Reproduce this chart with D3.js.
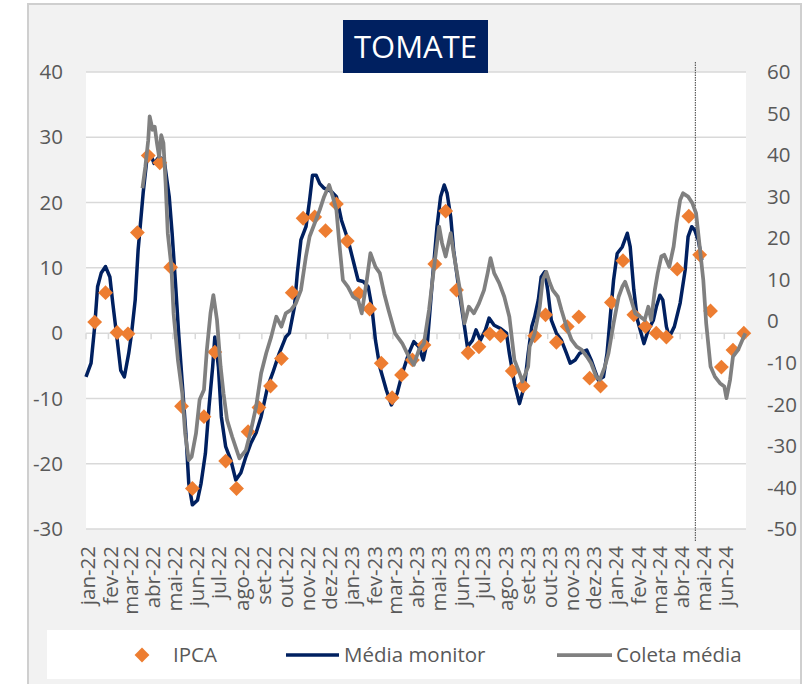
<!DOCTYPE html>
<html>
<head>
<meta charset="utf-8">
<script src="https://cdn.jsdelivr.net/npm/d3@7"></script>
<style>
  body { margin: 0; background: #fff; }
  text { font-family: "Open Sans", sans-serif; fill: #595959; }
</style>
</head>
<body>
<div class="container"></div>
<script>
const w = 803;
const h = 684;
const plot = { left: 86, right: 746, top: 72, bottom: 529 };

const monthLabels = ['jan-22','fev-22','mar-22','abr-22','mai-22','jun-22','jul-22','ago-22','set-22','out-22','nov-22','dez-22',
  'jan-23','fev-23','mar-23','abr-23','mai-23','jun-23','jul-23','ago-23','set-23','out-23','nov-23','dez-23',
  'jan-24','fev-24','mar-24','abr-24','mai-24','jun-24'];
const leftTicks = [-30, -20, -10, 0, 10, 20, 30, 40];
const rightTicks = [-50, -40, -30, -20, -10, 0, 10, 20, 30, 40, 50, 60];
const markerDate = '2024-04-22';

// IPCA (quinzenal), eixo esquerdo
const ipca = [
  ['2022-01-13',1.7],['2022-01-28',6.2],['2022-02-13',0.1],['2022-02-28',-0.1],['2022-03-13',15.4],['2022-03-28',27.2],
  ['2022-04-13',26.1],['2022-04-28',10.1],['2022-05-13',-11.2],['2022-05-28',-23.8],['2022-06-13',-12.8],['2022-06-28',-2.9],
  ['2022-07-13',-19.6],['2022-07-28',-23.8],['2022-08-13',-15.1],['2022-08-28',-11.4],['2022-09-13',-8.1],['2022-09-28',-3.9],
  ['2022-10-13',6.2],['2022-10-28',17.6],['2022-11-13',17.8],['2022-11-28',15.7],['2022-12-13',19.8],['2022-12-28',14.1],
  ['2023-01-13',6.1],['2023-01-28',3.7],['2023-02-13',-4.6],['2023-02-28',-9.9],['2023-03-13',-6.4],['2023-03-28',-4.1],
  ['2023-04-13',-1.8],['2023-04-28',10.6],['2023-05-13',18.7],['2023-05-28',6.6],['2023-06-13',-3.0],['2023-06-28',-2.1],
  ['2023-07-13',-0.1],['2023-07-28',-0.4],['2023-08-13',-5.8],['2023-08-28',-8.1],['2023-09-13',-0.4],['2023-09-28',2.8],
  ['2023-10-13',-1.4],['2023-10-28',1.0],['2023-11-13',2.5],['2023-11-28',-6.9],['2023-12-13',-8.1],['2023-12-28',4.7],
  ['2024-01-13',11.1],['2024-01-28',2.8],['2024-02-13',1.0],['2024-02-28',0.0],['2024-03-13',-0.6],['2024-03-28',9.8],
  ['2024-04-13',17.9],['2024-04-28',12.0],['2024-05-13',3.4],['2024-05-28',-5.2],['2024-06-13',-2.6],['2024-06-28',0.0]
];

// Média monitor, eixo esquerdo
const mediaMonitor = [
  ['2022-01-01',-6.7],['2022-01-08',-4.6],['2022-01-13',1.0],['2022-01-17',7.1],['2022-01-22',9.2],['2022-01-28',10.2],
  ['2022-02-03',8.6],['2022-02-07',4.6],['2022-02-12',0.0],['2022-02-18',-5.7],['2022-02-23',-6.7],['2022-03-01',-3.1],
  ['2022-03-05',0.0],['2022-03-10',5.1],['2022-03-14',12.7],['2022-03-21',21.5],['2022-03-26',26.5],['2022-03-31',27.5],
  ['2022-04-05',26.0],['2022-04-12',27.0],['2022-04-19',26.5],['2022-04-26',20.9],['2022-04-30',15.3],['2022-05-05',7.1],
  ['2022-05-09',0.0],['2022-05-14',-7.6],['2022-05-19',-15.3],['2022-05-23',-23.0],['2022-05-28',-26.3],['2022-06-04',-25.6],
  ['2022-06-09',-23.0],['2022-06-15',-18.4],['2022-06-20',-11.3],['2022-06-25',-5.2],['2022-06-28',-0.6],['2022-07-03',-5.2],
  ['2022-07-07',-12.8],['2022-07-13',-17.4],['2022-07-20',-19.4],['2022-07-27',-22.5],['2022-08-03',-21.4],['2022-08-10',-18.9],
  ['2022-08-17',-16.8],['2022-08-24',-15.3],['2022-08-31',-12.8],['2022-09-09',-8.2],['2022-09-16',-6.1],['2022-09-25',-3.1],
  ['2022-10-04',-0.6],['2022-10-09',0.0],['2022-10-16',4.0],['2022-10-20',9.2],['2022-10-25',14.3],['2022-11-01',16.3],
  ['2022-11-06',20.4],['2022-11-10',24.2],['2022-11-15',24.2],['2022-11-20',22.9],['2022-11-26',22.2],['2022-12-06',21.7],
  ['2022-12-13',20.9],['2022-12-20',17.3],['2022-12-29',14.3],['2023-01-05',11.2],['2023-01-12',8.1],['2023-01-19',7.9],
  ['2023-01-26',7.1],['2023-01-31',4.0],['2023-02-05',-1.1],['2023-02-11',-5.2],['2023-02-20',-8.7],['2023-02-27',-11.0],
  ['2023-03-07',-9.2],['2023-03-14',-6.2],['2023-03-23',-3.1],['2023-03-30',-1.3],['2023-04-06',-2.1],['2023-04-12',-4.1],
  ['2023-04-18',-1.1],['2023-04-25',8.6],['2023-05-01',16.3],['2023-05-06',20.9],['2023-05-11',22.7],['2023-05-15',21.4],
  ['2023-05-20',17.8],['2023-05-24',12.7],['2023-06-01',6.1],['2023-06-08',1.0],['2023-06-12',-2.1],['2023-06-19',-1.1],
  ['2023-06-24',0.5],['2023-06-30',-1.1],['2023-07-07',0.5],['2023-07-12',2.3],['2023-07-19',1.2],['2023-07-28',0.7],
  ['2023-08-05',0.0],['2023-08-09',-3.1],['2023-08-16',-7.7],['2023-08-23',-10.8],['2023-08-30',-8.0],['2023-09-04',-3.1],
  ['2023-09-09',1.0],['2023-09-13',2.5],['2023-09-18',5.1],['2023-09-22',8.6],['2023-09-27',9.4],['2023-10-01',6.6],
  ['2023-10-06',2.0],['2023-10-13',0.0],['2023-10-20',-1.1],['2023-10-27',-3.1],['2023-11-01',-4.6],['2023-11-08',-4.1],
  ['2023-11-14',-3.1],['2023-11-24',-2.6],['2023-11-30',-4.1],['2023-12-05',-5.7],['2023-12-10',-7.2],['2023-12-17',-6.7],
  ['2023-12-22',-3.1],['2023-12-26',2.0],['2023-12-31',8.1],['2024-01-05',12.2],['2024-01-12',13.2],['2024-01-19',15.3],
  ['2024-01-23',13.2],['2024-01-28',6.6],['2024-02-02',2.0],['2024-02-07',0.0],['2024-02-11',-1.6],['2024-02-17',0.5],
  ['2024-02-24',2.0],['2024-02-28',4.0],['2024-03-04',5.8],['2024-03-08',5.1],['2024-03-13',1.0],['2024-03-17',-0.6],
  ['2024-03-24',1.0],['2024-04-01',4.6],['2024-04-08',9.7],['2024-04-12',14.8],['2024-04-17',16.3],['2024-04-21',15.8],
  ['2024-04-26',14.3],['2024-05-01',11.2]
];

// Coleta média, eixo direito
const coletaMedia = [
  ['2022-03-20',32.0],['2022-03-24',37.2],['2022-03-28',43.6],['2022-03-30',49.3],['2022-04-03',46.1],['2022-04-06',46.8],
  ['2022-04-09',42.9],['2022-04-12',39.6],['2022-04-15',44.8],['2022-04-18',42.9],['2022-04-21',33.2],['2022-04-24',21.2],
  ['2022-04-29',13.1],['2022-05-02',1.9],['2022-05-08',-9.3],['2022-05-14',-17.3],['2022-05-18',-27.0],['2022-05-23',-33.4],
  ['2022-05-27',-32.6],['2022-06-02',-27.0],['2022-06-07',-18.9],['2022-06-13',-16.5],['2022-06-17',-6.9],['2022-06-22',1.9],
  ['2022-06-26',6.3],['2022-07-01',0.3],['2022-07-06',-10.9],['2022-07-10',-17.3],['2022-07-15',-23.8],['2022-07-22',-27.8],
  ['2022-08-01',-33.0],['2022-08-10',-31.0],['2022-08-17',-26.2],['2022-08-24',-20.6],['2022-08-31',-12.5],['2022-09-07',-7.7],
  ['2022-09-14',-3.7],['2022-09-21',1.1],['2022-09-28',-1.3],['2022-10-04',1.9],['2022-10-11',2.7],['2022-10-18',4.3],
  ['2022-10-25',7.5],['2022-11-01',15.7],['2022-11-06',20.4],['2022-11-13',23.6],['2022-11-20',26.8],['2022-11-26',30.0],
  ['2022-12-03',32.8],['2022-12-08',30.0],['2022-12-13',26.8],['2022-12-17',18.8],['2022-12-22',9.9],['2022-12-29',8.3],
  ['2023-01-05',5.9],['2023-01-12',5.1],['2023-01-17',1.9],['2023-01-24',9.9],['2023-01-29',16.4],['2023-02-05',13.1],
  ['2023-02-11',11.6],['2023-02-17',6.7],['2023-02-23',2.7],['2023-03-04',-2.9],['2023-03-14',-5.3],['2023-03-23',-8.5],
  ['2023-03-30',-10.5],['2023-04-06',-6.9],['2023-04-13',-5.3],['2023-04-20',2.7],['2023-04-27',13.1],['2023-05-04',22.8],
  ['2023-05-08',18.8],['2023-05-13',15.6],['2023-05-20',21.2],['2023-05-24',16.4],['2023-06-01',8.3],['2023-06-08',-0.5],
  ['2023-06-14',3.5],['2023-06-21',1.9],['2023-06-28',4.3],['2023-07-05',7.5],['2023-07-10',11.6],['2023-07-14',15.2],
  ['2023-07-19',11.6],['2023-07-26',9.2],['2023-08-02',5.9],['2023-08-09',1.1],['2023-08-16',-9.3],['2023-08-23',-12.5],
  ['2023-08-27',-14.5],['2023-09-04',-10.9],['2023-09-06',-6.1],['2023-09-13',-2.9],['2023-09-20',3.5],['2023-09-24',9.9],
  ['2023-09-29',11.9],['2023-10-04',9.2],['2023-10-08',7.5],['2023-10-15',5.9],['2023-10-20',2.7],['2023-10-27',-1.3],
  ['2023-11-03',-4.5],['2023-11-10',-6.1],['2023-11-17',-6.9],['2023-11-24',-8.5],['2023-11-30',-10.1],['2023-12-07',-13.3],
  ['2023-12-12',-14.1],['2023-12-19',-10.9],['2023-12-24',-7.7],['2023-12-31',-0.5],['2024-01-07',5.9],['2024-01-12',8.3],
  ['2024-01-16',9.5],['2024-01-23',5.9],['2024-01-30',1.9],['2024-02-06',1.1],['2024-02-12',0.3],['2024-02-17',3.5],
  ['2024-02-21',0.3],['2024-02-26',7.5],['2024-03-01',11.6],['2024-03-06',15.6],['2024-03-10',16.0],['2024-03-17',13.1],
  ['2024-03-23',18.0],['2024-03-27',23.6],['2024-04-01',29.2],['2024-04-05',30.8],['2024-04-12',30.0],['2024-04-18',28.4],
  ['2024-04-23',26.0],['2024-04-28',18.0],['2024-05-03',9.9],['2024-05-07',-0.5],['2024-05-13',-10.9],['2024-05-19',-13.3],
  ['2024-05-26',-14.9],['2024-06-01',-15.7],['2024-06-04',-18.5],['2024-06-09',-14.1],['2024-06-13',-8.5],['2024-06-20',-6.9],
  ['2024-06-26',-4.5],['2024-06-30',-2.9]
];

const parse = d3.timeParse('%Y-%m-%d');

const x = d3.scaleTime()
    .domain([parse('2022-01-01'), parse('2024-07-01')])
    .range([plot.left, plot.right]);

const yLeft = d3.scaleLinear()
    .domain([-30, 40])
    .range([plot.bottom, plot.top]);

const yRight = d3.scaleLinear()
    .domain([-50, 60])
    .range([plot.bottom, plot.top]);

const svg = d3.select('.container').append('svg')
    .attr('width', w)
    .attr('height', h);

// moldura
svg.append('rect')
    .attr('x', 28).attr('y', 4)
    .attr('width', 773).attr('height', 700)
    .attr('fill', '#f2f2f2')
    .attr('stroke', '#cfcfcf')
    .attr('stroke-width', 2);

svg.append('rect')
    .attr('x', plot.left).attr('y', plot.top)
    .attr('width', plot.right - plot.left)
    .attr('height', plot.bottom - plot.top)
    .attr('fill', '#fff');

// grade
svg.append('g')
    .selectAll('line')
    .data(leftTicks)
    .join('line')
      .attr('x1', plot.left)
      .attr('x2', plot.right)
      .attr('y1', d => yLeft(d))
      .attr('y2', d => yLeft(d))
      .attr('stroke', '#d9d9d9')
      .attr('stroke-width', 1.5);

// eixo x sobre o zero
const monthStarts = d3.timeMonth.range(parse('2022-01-01'), parse('2024-07-02'));

svg.append('g')
    .selectAll('line')
    .data(monthStarts)
    .join('line')
      .attr('x1', d => x(d))
      .attr('x2', d => x(d))
      .attr('y1', yLeft(0))
      .attr('y2', yLeft(0) + 6)
      .attr('stroke', '#d9d9d9')
      .attr('stroke-width', 1.5);

svg.append('g')
    .selectAll('text')
    .data(monthLabels)
    .join('text')
      .attr('transform', (d, i) => `translate(${x(monthStarts[i]) + 2}, 546) rotate(-90)`)
      .attr('dy', '0.35em')
      .attr('text-anchor', 'end')
      .style('font-size', '20.5px')
      .text(d => d);

// eixos y
svg.append('g')
    .selectAll('text')
    .data(leftTicks)
    .join('text')
      .attr('x', 63)
      .attr('y', d => yLeft(d))
      .attr('dy', '0.35em')
      .attr('text-anchor', 'end')
      .style('font-size', '20.5px')
      .text(d => d);

svg.append('g')
    .selectAll('text')
    .data(rightTicks)
    .join('text')
      .attr('x', 767)
      .attr('y', d => yRight(d))
      .attr('dy', '0.35em')
      .style('font-size', '20.5px')
      .text(d => d);

// linha pontilhada
svg.append('line')
    .attr('x1', x(parse(markerDate)))
    .attr('x2', x(parse(markerDate)))
    .attr('y1', 62)
    .attr('y2', 541)
    .attr('stroke', '#404040')
    .attr('stroke-width', 1)
    .attr('stroke-dasharray', '1.5,1');

// séries
const lineLeft = d3.line()
    .x(d => x(parse(d[0])))
    .y(d => yLeft(d[1]));

const lineRight = d3.line()
    .x(d => x(parse(d[0])))
    .y(d => yRight(d[1]));

const diamond = d3.symbol().type(d3.symbolSquare).size(110);

svg.append('path')
    .datum(mediaMonitor)
    .attr('d', lineLeft)
    .attr('fill', 'none')
    .attr('stroke', '#002060')
    .attr('stroke-width', 3.5)
    .attr('stroke-linejoin', 'round');

svg.append('g')
    .selectAll('path')
    .data(ipca)
    .join('path')
      .attr('d', diamond)
      .attr('transform', d => `translate(${x(parse(d[0]))}, ${yLeft(d[1])}) rotate(45)`)
      .attr('fill', '#ed7d31');

svg.append('path')
    .datum(coletaMedia)
    .attr('d', lineRight)
    .attr('fill', 'none')
    .attr('stroke', '#808080')
    .attr('stroke-width', 3.75)
    .attr('stroke-linejoin', 'round');

// título
svg.append('rect')
    .attr('x', 343).attr('y', 20)
    .attr('width', 145).attr('height', 53)
    .attr('fill', '#002060');

svg.append('text')
    .attr('x', 415.5)
    .attr('y', 47)
    .attr('dy', '0.35em')
    .attr('text-anchor', 'middle')
    .style('font-size', '31px')
    .style('fill', '#fff')
    .text('TOMATE');

// legenda
const legend = svg.append('g');

legend.append('rect')
    .attr('x', 47).attr('y', 630)
    .attr('width', 753).attr('height', 49)
    .attr('fill', '#fff');

legend.append('path')
    .attr('d', diamond)
    .attr('transform', 'translate(142, 655) rotate(45)')
    .attr('fill', '#ed7d31');

legend.append('line')
    .attr('x1', 286).attr('x2', 339)
    .attr('y1', 655).attr('y2', 655)
    .attr('stroke', '#002060')
    .attr('stroke-width', 3.5);

legend.append('line')
    .attr('x1', 557).attr('x2', 612)
    .attr('y1', 655).attr('y2', 655)
    .attr('stroke', '#808080')
    .attr('stroke-width', 3.75);

legend.selectAll('text.item')
    .data([['IPCA', 173], ['Média monitor', 344], ['Coleta média', 616]])
    .join('text')
      .attr('class', 'item')
      .attr('x', d => d[1])
      .attr('y', 655)
      .attr('dy', '0.35em')
      .style('font-size', '20.5px')
      .text(d => d[0]);
</script>
</body>
</html>
